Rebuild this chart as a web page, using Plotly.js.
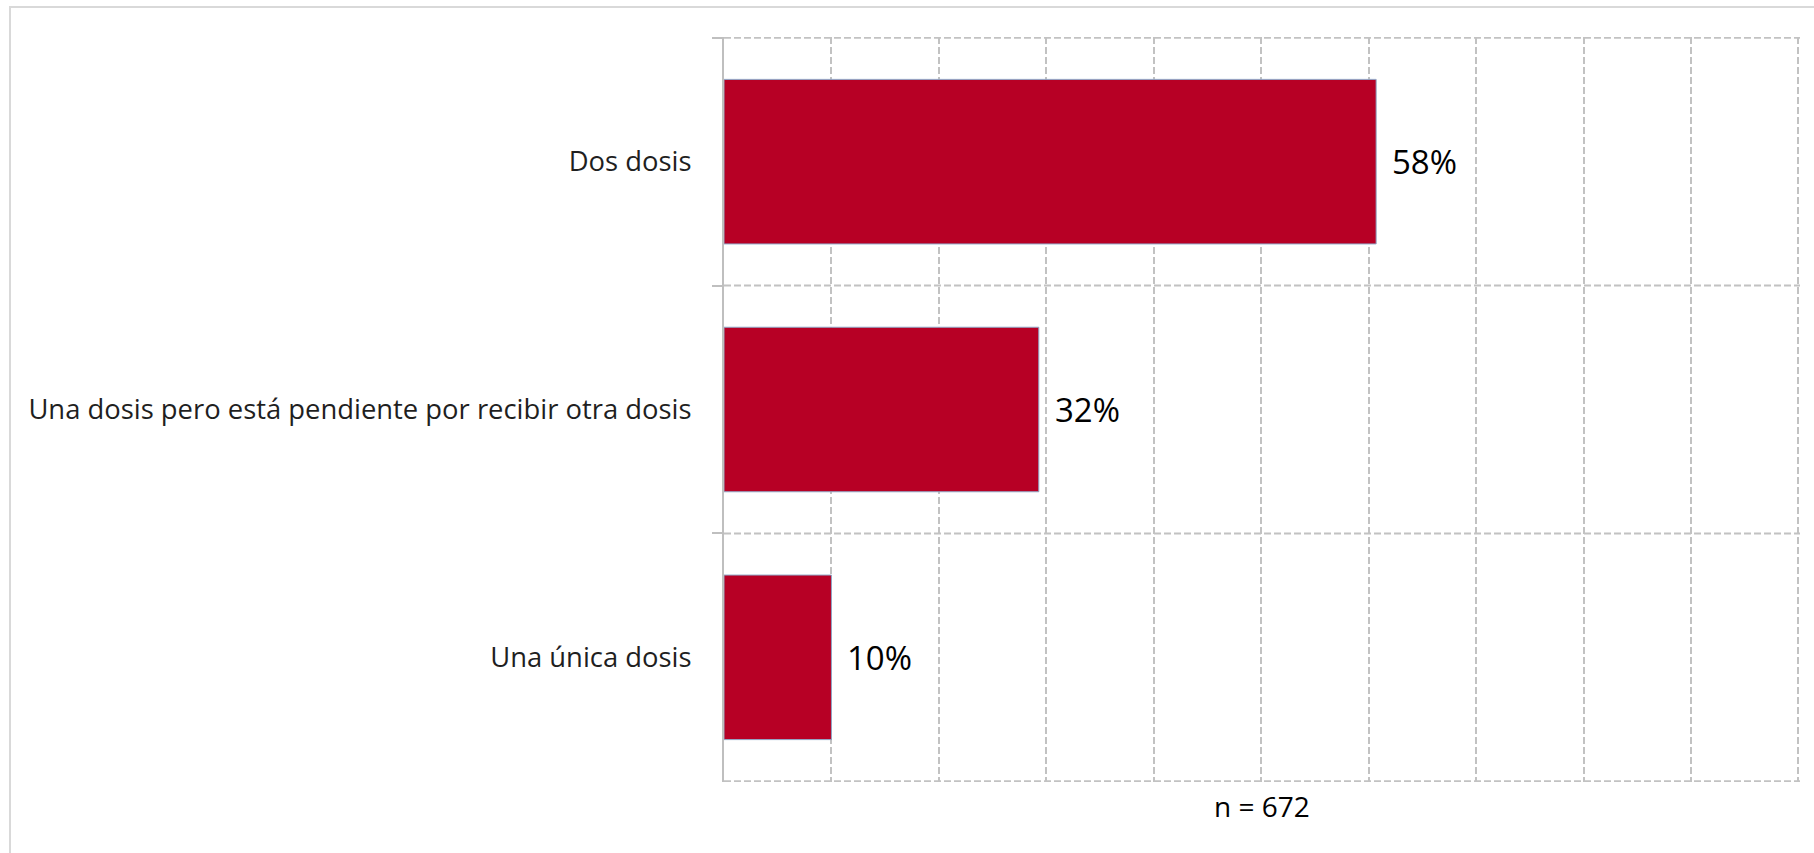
<!DOCTYPE html>
<html>
<head>
<meta charset="utf-8">
<script src="https://cdn.plot.ly/plotly-3.0.1.min.js"></script>
<style>
  html, body { margin: 0; padding: 0; background: #ffffff; }
  #frame { position: absolute; left: 0; top: 0; width: 1814px; height: 853px; overflow: hidden; }
  #border { position: absolute; left: 9px; top: 6px; width: 1830px; height: 900px;
            border-left: 2px solid #d9d9d9; border-top: 2px solid #d9d9d9; }
  #chart { position: absolute; left: 0; top: 0; width: 1814px; height: 853px; }
</style>
</head>
<body>
<div id="frame">
  <div id="border"></div>
  <div id="chart"></div>
</div>
<script>
// Categories, top to bottom
const categories = [
  "Dos dosis",
  "Una dosis pero está pendiente por recibir otra dosis",
  "Una única dosis"
];
// Bar lengths as drawn (percent of axis)
const values = [60.7, 29.3, 10.0];
// Data labels as printed on the chart
const valueLabels = ["58%", "32%", "10%"];
const sampleNote = "n = 672";

const gridColor = "#c2c2c2";
const axisColor = "#bfbfbf";

const trace = {
  type: "bar",
  orientation: "h",
  y: categories,
  x: values,
  marker: { color: "#B70025", line: { color: "#8FA8C8", width: 1 } },
  hoverinfo: "skip"
};

const annotations = categories.map((c, i) => ({
  x: values[i], y: c, xref: "x", yref: "y",
  text: valueLabels[i], showarrow: false,
  xanchor: "left", yanchor: "middle", xshift: 14,
  font: { family: "Open Sans", size: 33, color: "#000000" }
}));

// Horizontal gridlines at category boundaries (category axis index units)
const boundaries = [];
for (let i = 0; i <= categories.length; i++) boundaries.push(i - 0.5);
const shapes = [];
boundaries.forEach(b => {
  shapes.push({
    type: "line", layer: "below", xref: "paper", yref: "y",
    x0: 0, x1: 1, y0: b, y1: b,
    line: { color: gridColor, width: 2, dash: "7px,3px" }
  });
});
// closing outside tick at the last boundary
shapes.push({
  type: "line", layer: "above", xref: "x", yref: "y",
  xsizemode: "pixel", xanchor: 0, x0: -10, x1: 0,
  y0: boundaries[boundaries.length - 1], y1: boundaries[boundaries.length - 1],
  line: { color: axisColor, width: 2 }
});

const layout = {
  width: 1814, height: 853,
  paper_bgcolor: "rgba(0,0,0,0)", plot_bgcolor: "rgba(0,0,0,0)",
  margin: { l: 724, r: 14, t: 37, b: 71, pad: 0 },
  bargap: 0.336,
  showlegend: false,
  font: { family: "Open Sans", color: "#1f1f1f" },
  xaxis: {
    range: [0, 100.15], dtick: 10, tick0: 0,
    showgrid: true, gridcolor: gridColor, gridwidth: 2, griddash: "7px,3px",
    showticklabels: false, ticks: "", zeroline: false, showline: false,
    fixedrange: true,
    title: { text: sampleNote, standoff: 15, font: { family: "Open Sans", size: 28, color: "#000000" } }
  },
  yaxis: {
    type: "category", range: [categories.length - 0.497, -0.503],
    tickson: "boundaries",
    showgrid: false,
    showline: true, linecolor: axisColor, linewidth: 2,
    ticks: "outside", ticklen: 10, tickcolor: axisColor, tickwidth: 2,
    ticklabelstandoff: 25,
    tickfont: { family: "Open Sans", size: 27.4, color: "#1f1f1f" },
    zeroline: false, fixedrange: true
  },
  shapes: shapes,
  annotations: annotations
};

Plotly.newPlot("chart", [trace], layout, { displayModeBar: false, staticPlot: true });
</script>
</body>
</html>
